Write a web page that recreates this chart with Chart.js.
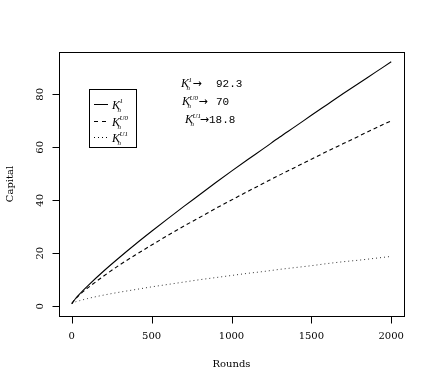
<!DOCTYPE html>
<html lang="en">
<head>
<meta charset="UTF-8">
<title>Capital over rounds</title>
<script src="https://cdn.jsdelivr.net/npm/chart.js"></script>
<style>
  html, body { margin: 0; padding: 0; background: #fff; }
</style>
</head>
<body>
<canvas id="chart" width="436" height="382"></canvas>
<script>
// values
const rounds = [0, 25, 50, 100, 200, 300, 400, 500, 600, 700, 800, 900, 1000,
                1100, 1200, 1300, 1400, 1500, 1600, 1700, 1800, 1900, 2000];
const capK1  = [1, 3.0, 4.7, 7.7, 13.3, 18.5, 23.5, 28.3, 33.0, 37.6, 42.1, 46.6, 51.0,
                55.3, 59.5, 63.8, 67.9, 72.1, 76.2, 80.3, 84.3, 88.3, 92.3];
const capU0  = [1, 2.9, 4.4, 6.9, 11.4, 15.6, 19.4, 23.1, 26.7, 30.2, 33.5, 36.9, 40.1,
                43.3, 46.4, 49.5, 52.5, 55.5, 58.5, 61.4, 64.3, 67.2, 70];
const capU1  = [1, 1.7, 2.1, 2.9, 4.2, 5.3, 6.3, 7.3, 8.2, 9.1, 10.0, 10.8, 11.6,
                12.4, 13.1, 13.9, 14.6, 15.3, 16.1, 16.8, 17.4, 18.1, 18.8];
const xTicks = [0, 500, 1000, 1500, 2000];
const yTicks = [0, 20, 40, 60, 80];
const supLabels = ['1', 'U0', 'U1'];
const finalLabels = ['92.3', '70', '18.8'];

function pts(ys) {
    return rounds.map((r, i) => ({ x: r, y: ys[i] }));
}

// italic K with superscript and subscript n, returns x after it
function drawK(ctx, x, base, sup) {
    ctx.textAlign = 'left';
    ctx.font = 'italic 12px "Liberation Serif"';
    ctx.fillText('K', x, base);
    const w = ctx.measureText('K').width;
    ctx.font = 'italic 7px "Liberation Serif"';
    ctx.fillText(sup, x + w - 0.5, base - 5.5);
    const ws = ctx.measureText(sup).width;
    ctx.fillText('n', x + w - 2.5, base + 3);
    return x + w - 0.5 + ws;
}

const rAxes = {
    id: 'rAxes',
    afterDraw(chart) {
        const { ctx, chartArea: a, scales: { x, y } } = chart;
        ctx.save();
        ctx.strokeStyle = '#000';
        ctx.fillStyle = '#000';
        ctx.lineWidth = 1;
        ctx.setLineDash([]);

        // box round the plot
        const L = Math.round(a.left) + 0.5, T = Math.round(a.top) + 0.5;
        ctx.strokeRect(L, T, Math.round(a.right - a.left), Math.round(a.bottom - a.top));
        const B = Math.round(a.bottom) + 0.5;

        // ticks
        ctx.beginPath();
        xTicks.forEach(v => {
            const px = Math.round(x.getPixelForValue(v)) + 0.5;
            ctx.moveTo(px, B); ctx.lineTo(px, B + 7);
        });
        yTicks.forEach(v => {
            const py = Math.round(y.getPixelForValue(v)) + 0.5;
            ctx.moveTo(L, py); ctx.lineTo(L - 7, py);
        });
        ctx.stroke();

        // tick labels
        ctx.font = '10px "DejaVu Serif"';
        ctx.textAlign = 'center';
        ctx.textBaseline = 'alphabetic';
        xTicks.forEach(v => ctx.fillText(String(v), x.getPixelForValue(v), a.bottom + 23));
        yTicks.forEach(v => {
            ctx.save();
            ctx.translate(a.left - 16, y.getPixelForValue(v));
            ctx.rotate(-Math.PI / 2);
            ctx.fillText(String(v), 0, 0);
            ctx.restore();
        });

        // axis titles
        ctx.fillText('Rounds', (a.left + a.right) / 2, a.bottom + 51);
        ctx.save();
        ctx.translate(13, (a.top + a.bottom) / 2);
        ctx.rotate(-Math.PI / 2);
        ctx.fillText('Capital', 0, 0);
        ctx.restore();

        // legend
        ctx.strokeRect(89.5, 89.5, 47, 58);
        const dashes = [[], [4, 4], [1, 3]];
        const rowsY = [104.5, 121.5, 137.5];
        rowsY.forEach((ry, i) => {
            ctx.setLineDash(dashes[i]);
            ctx.beginPath();
            ctx.moveTo(94, ry); ctx.lineTo(108, ry);
            ctx.stroke();
            ctx.setLineDash([]);
            drawK(ctx, 112, ry + 4, supLabels[i]);
        });

        // end value notes
        const noteX = [181, 182, 185];
        const noteBase = [87, 105, 123];
        const numX = [216, 216, 209];
        noteX.forEach((nx, i) => {
            const ex = drawK(ctx, nx, noteBase[i], supLabels[i]);
            ctx.font = '11px "DejaVu Sans"';
            ctx.textAlign = 'left';
            const aw = ctx.measureText('\u2192').width;
            ctx.fillText('\u2192', Math.min(ex + 0.5, numX[i] - aw), noteBase[i] - 0.5);
            ctx.font = '11px "Liberation Mono"';
            ctx.fillText(finalLabels[i], numX[i], noteBase[i]);
        });
        ctx.restore();
    }
};

new Chart(document.getElementById('chart'), {
    type: 'line',
    data: {
        datasets: [
            { label: 'K1', data: pts(capK1), borderColor: '#000', borderWidth: 1.1 },
            { label: 'KU0', data: pts(capU0), borderColor: '#000', borderWidth: 1.1, borderDash: [4, 3] },
            { label: 'KU1', data: pts(capU1), borderColor: '#333', borderWidth: 1, borderDash: [1, 3] }
        ]
    },
    options: {
        responsive: false,
        animation: false,
        devicePixelRatio: 1,
        layout: { padding: { left: 59, right: 32, top: 52, bottom: 66 } },
        elements: { point: { radius: 0 }, line: { cubicInterpolationMode: 'monotone' } },
        plugins: { legend: { display: false }, tooltip: { enabled: false } },
        scales: {
            x: { type: 'linear', min: -80, max: 2080, display: false },
            y: { type: 'linear', min: -3.7, max: 96, display: false }
        }
    },
    plugins: [rAxes]
});
</script>
</body>
</html>
